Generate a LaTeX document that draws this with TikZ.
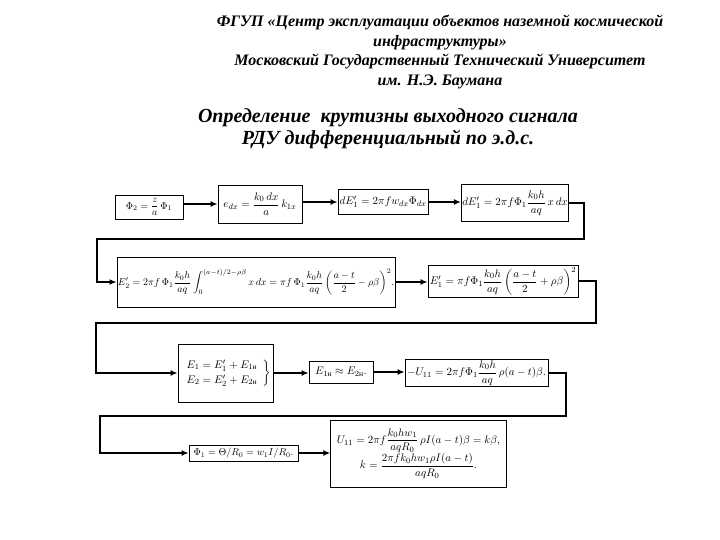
\documentclass[tikz,border=0pt]{standalone}
\usepackage{amsmath}
\usepackage{fontspec}
\setmainfont{Liberation Serif}
\newfontfamily\tfont{Liberation Serif}
\usetikzlibrary{arrows.meta}
\tikzset{
  box/.style={draw, line width=0.8pt, fill=white, inner sep=1pt, font=\fontsize{11}{13}\selectfont},
  conn/.style={line width=1.8pt, -{Latex[length=7pt,width=6pt]}},
  titlef/.style={font=\tfont\fontsize{16}{19.7}\selectfont\bfseries\itshape, align=center},
  subf/.style={font=\tfont\fontsize{20}{22}\selectfont\bfseries\itshape, align=center}
}
\begin{document}
\begin{tikzpicture}[x=1pt,y=-1pt]
\useasboundingbox (0,0) rectangle (720,540);
\node[titlef] (title) at (440,52) {ФГУП «Центр эксплуатации объектов наземной космической\\ инфраструктуры»\\ Московский Государственный Технический Университет\\ им. Н.Э. Баумана};
\node[subf] (sub) at (388,129) {Определение\ \ крутизны выходного сигнала\\ РДУ дифференциальный по э.д.с.};

% row 1
\node[box, minimum width=68pt, minimum height=24pt, font=\fontsize{10}{12}\selectfont] (A) at (149,207) {$\Phi_2=\dfrac{z}{a}\,\Phi_1$};
\node[box, minimum width=84pt, minimum height=38pt] (B) at (260,204) {$e_{dx}=\dfrac{k_0\,dx}{a}\,k_{1x}$};
\node[box, minimum width=90pt, minimum height=25pt] (C) at (383,202) {$dE_1'=2\pi f w_{dx}\Phi_{dx}$};
\node[box, minimum width=106pt, minimum height=37pt] (D) at (515,203) {$dE_1'=2\pi f\Phi_1\dfrac{k_0h}{aq}\,x\,dx$};

% row 2
\node[box, minimum width=278pt, minimum height=50pt, font=\fontsize{10.2}{12}\selectfont] (E) at (256,282) {$E_2'=2\pi f\,\Phi_1\dfrac{k_0h}{aq}\displaystyle\int\nolimits_{0}^{(a-t)/2-\rho\beta}x\,dx=\pi f\,\Phi_1\dfrac{k_0h}{aq}\left(\dfrac{a-t}{2}-\rho\beta\right)^{2}\!.$};
\node[box, minimum width=150pt, minimum height=32pt] (F) at (503,281) {$E_1'=\pi f\Phi_1\dfrac{k_0h}{aq}\left(\dfrac{a-t}{2}+\rho\beta\right)^{2}$};

% row 3
\node[box, minimum width=95pt, minimum height=58pt] (G) at (225.5,373) {$\left.\begin{array}{l}E_1=E_1'+E_{1\text{н}}\\[2pt] E_2=E_2'+E_{2\text{н}}\end{array}\right\}$};
\node[box, minimum width=64pt, minimum height=22pt] (H) at (341,372) {$E_{1\text{н}}\approx E_{2\text{н}}.$};
\node[box, minimum width=143pt, minimum height=27pt] (I) at (476.5,373) {$-U_{11}=2\pi f\Phi_1\dfrac{k_0h}{aq}\,\rho(a-t)\beta.$};

% row 4
\node[box, minimum width=109pt, minimum height=16pt, font=\fontsize{10}{12}\selectfont] (J) at (243.5,453) {$\Phi_1=\Theta/R_0=w_1I/R_0.$};
\node[box, minimum width=173pt, minimum height=67pt] (K) at (418.5,453.5) {$\begin{array}{c}U_{11}=2\pi f\dfrac{k_0hw_1}{aqR_0}\,\rho I(a-t)\beta=k\beta,\\[6pt] k=\dfrac{2\pi fk_0hw_1\rho I(a-t)}{aqR_0}.\end{array}$};

% loop corners
\coordinate (t1) at (584,239);
\coordinate (t1b) at (97,239);
\coordinate (t2) at (596,323);
\coordinate (t2b) at (96,323);
\coordinate (t3) at (566,416);
\coordinate (t3b) at (100,416);

% connectors
\draw[conn] (A.east |- B.west) -- (B.west);
\draw[conn] (B.east |- C.west) -- (C.west);
\draw[conn] (C.east) -- (C.east -| D.west);
\draw[conn] (D.east) -| (t1) -- (t1b) |- (E.west);
\draw[conn] (E.east) -- (E.east -| F.west);
\draw[conn] (F.east) -| (t2) -- (t2b) |- (G.west);
\draw[conn] (G.east) -- (G.east -| H.west);
\draw[conn] (H.east) -- (H.east -| I.west);
\draw[conn] (I.east) -| (t3) -- (t3b) |- (J.west);
\draw[conn] (J.east) -- (J.east -| K.west);
\end{tikzpicture}
\end{document}
